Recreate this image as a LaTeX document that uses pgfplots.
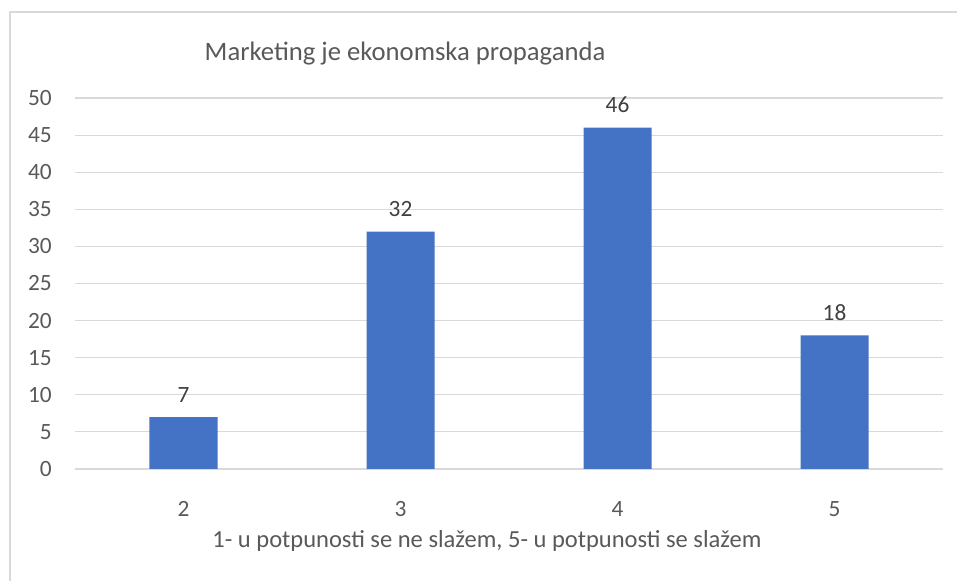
\documentclass[border=0pt]{standalone}
\usepackage{fontspec}
\setmainfont{Carlito}
\usepackage{pgfplots}
\pgfplotsset{compat=1.18}
\definecolor{barblue}{HTML}{4472C4}
\definecolor{gridgray}{HTML}{D9D9D9}
\definecolor{txtgray}{HTML}{595959}
\definecolor{lblgray}{HTML}{404040}
\begin{document}
\begin{tikzpicture}
\useasboundingbox (0pt,0pt) rectangle (717.75pt,435.75pt);
\draw[gridgray, line width=1.5pt] (7.5pt,0pt) -- (7.5pt,426.75pt) -- (717.75pt,426.75pt);
\begin{axis}[
  at={(56.25pt,84pt)}, anchor=south west,
  scale only axis,
  width=651pt, height=278.25pt,
  xmin=-0.5, xmax=3.5,
  ymin=0, ymax=50,
  ytick={0,5,...,50},
  xtick={0,1,2,3},
  xticklabels={2,3,4,5},
  ymajorgrids,
  grid style={gridgray, line width=0.9pt},
  axis line style={draw=none},
  major tick length=0pt,
  tick label style={font=\fontsize{17.5}{20}\selectfont, text=txtgray},
  /pgf/number format/assume math mode=true,
  yticklabel style={anchor=east, inner sep=0pt, xshift=-17.25pt},
  xticklabel style={anchor=north, inner sep=0pt, yshift=-24pt},
  nodes near coords,
  every node near coord/.append style={font=\fontsize{17.5}{20}\selectfont, text=lblgray, anchor=south, inner sep=0pt, yshift=11pt},
  clip=false,
]
\addplot[ybar, bar width=51pt, fill=barblue, draw=none] coordinates {(0,7) (1,32) (2,46) (3,18)};
\end{axis}
\node[text=txtgray, font=\fontsize{20}{24}\selectfont, inner sep=0pt] at (303.75pt,395.25pt) {Marketing je ekonomska propaganda};
\node[text=txtgray, font=\fontsize{18.4}{22}\selectfont, inner sep=0pt] at (365.25pt,30pt) {1- u potpunosti se ne slažem, 5- u potpunosti se slažem};
\end{tikzpicture}
\end{document}
